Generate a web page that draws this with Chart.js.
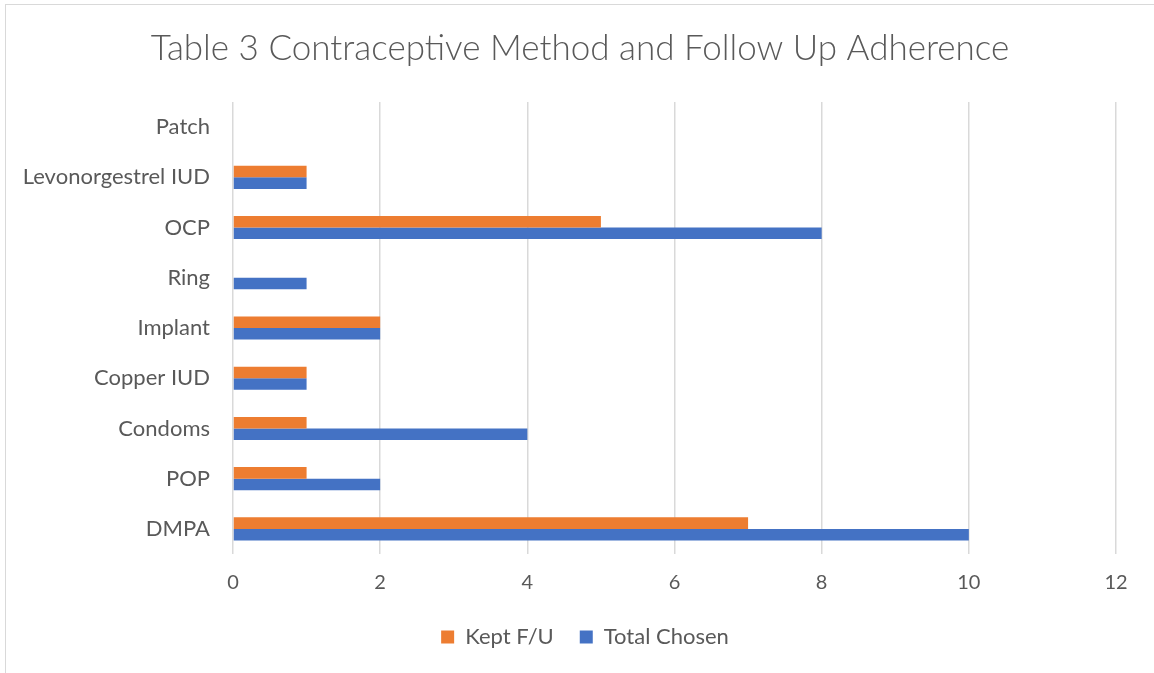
<!DOCTYPE html>
<html>
<head>
<meta charset="utf-8">
<title>Table 3 Contraceptive Method and Follow Up Adherence</title>
<script src="https://cdn.jsdelivr.net/npm/chart.js@4.4.1/dist/chart.umd.min.js"></script>
<style>
  html, body { margin: 0; padding: 0; background: #ffffff; }
  #frame {
    position: absolute; left: 5px; top: 4px;
    width: 1160px; height: 680px;
    border: 1px solid #d9d9d9; box-sizing: border-box;
  }
  #wrap { position: absolute; left: 0; top: 0; width: 1154px; height: 673px; }
</style>
</head>
<body>
<div id="frame"></div>
<div id="wrap"><canvas id="chart" width="1154" height="673"></canvas></div>
<script>
// Contraceptive methods, listed top to bottom as shown on the chart
const methods = ['Patch', 'Levonorgestrel IUD', 'OCP', 'Ring', 'Implant', 'Copper IUD', 'Condoms', 'POP', 'DMPA'];
// Patients who kept their follow-up visit
const keptFU = [0, 1, 5, 0, 2, 1, 1, 1, 7];
// Patients who chose each method
const totalChosen = [0, 1, 8, 1, 2, 1, 4, 2, 10];
// Value axis ticks
const xTicks = [0, 2, 4, 6, 8, 10, 12];

const TEXT = '#595959';
const FONT = 'Lato, "Open Sans", sans-serif';

// Nudges the title and legend boxes sideways after layout
const boxShift = {
  id: 'boxShift',
  afterLayout(chart, args, opts) {
    const shift = (box, dx) => {
      if (!box) return;
      box.left += dx;
      box.right += dx;
    };
    shift(chart.titleBlock, opts.titleDx);
    shift(chart.legend, opts.legendDx);
  }
};

new Chart(document.getElementById('chart'), {
  type: 'bar',
  data: {
    labels: methods,
    datasets: [
      { label: 'Kept F/U', data: keptFU, backgroundColor: '#ED7D31', borderWidth: 0 },
      { label: 'Total Chosen', data: totalChosen, backgroundColor: '#4472C4', borderWidth: 0 }
    ]
  },
  plugins: [boxShift],
  options: {
    indexAxis: 'y',
    responsive: false,
    animation: false,
    categoryPercentage: 0.46,
    barPercentage: 1.0,
    layout: { padding: { left: 0, right: 38, top: 0, bottom: 15 } },
    plugins: {
      boxShift: { titleDx: 22, legendDx: 27 },
      title: {
        display: true,
        text: 'Table 3 Contraceptive Method and Follow Up Adherence',
        color: TEXT,
        font: { family: FONT, size: 35, weight: '300', lineHeight: 1.2 },
        padding: { top: 28, bottom: 32 }
      },
      legend: {
        position: 'bottom',
        labels: {
          color: TEXT,
          font: { family: FONT, size: 22 },
          boxWidth: 13, boxHeight: 13,
          padding: 26
        }
      },
      tooltip: { enabled: false }
    },
    scales: {
      x: {
        min: 0, max: 12,
        afterBuildTicks: (scale) => { scale.ticks = xTicks.map(v => ({ value: v })); },
        afterFit: (scale) => { scale.height = 46; },
        grid: { color: '#d9d9d9', lineWidth: 1.5, drawTicks: false },
        border: { display: false },
        ticks: { color: TEXT, font: { family: FONT, size: 20 }, padding: 17 }
      },
      y: {
        afterFit: (scale) => { scale.width = 233; },
        grid: { display: false, drawTicks: false },
        border: { display: false },
        ticks: { color: TEXT, font: { family: FONT, size: 22 }, padding: 23 }
      }
    }
  }
});
</script>
</body>
</html>
